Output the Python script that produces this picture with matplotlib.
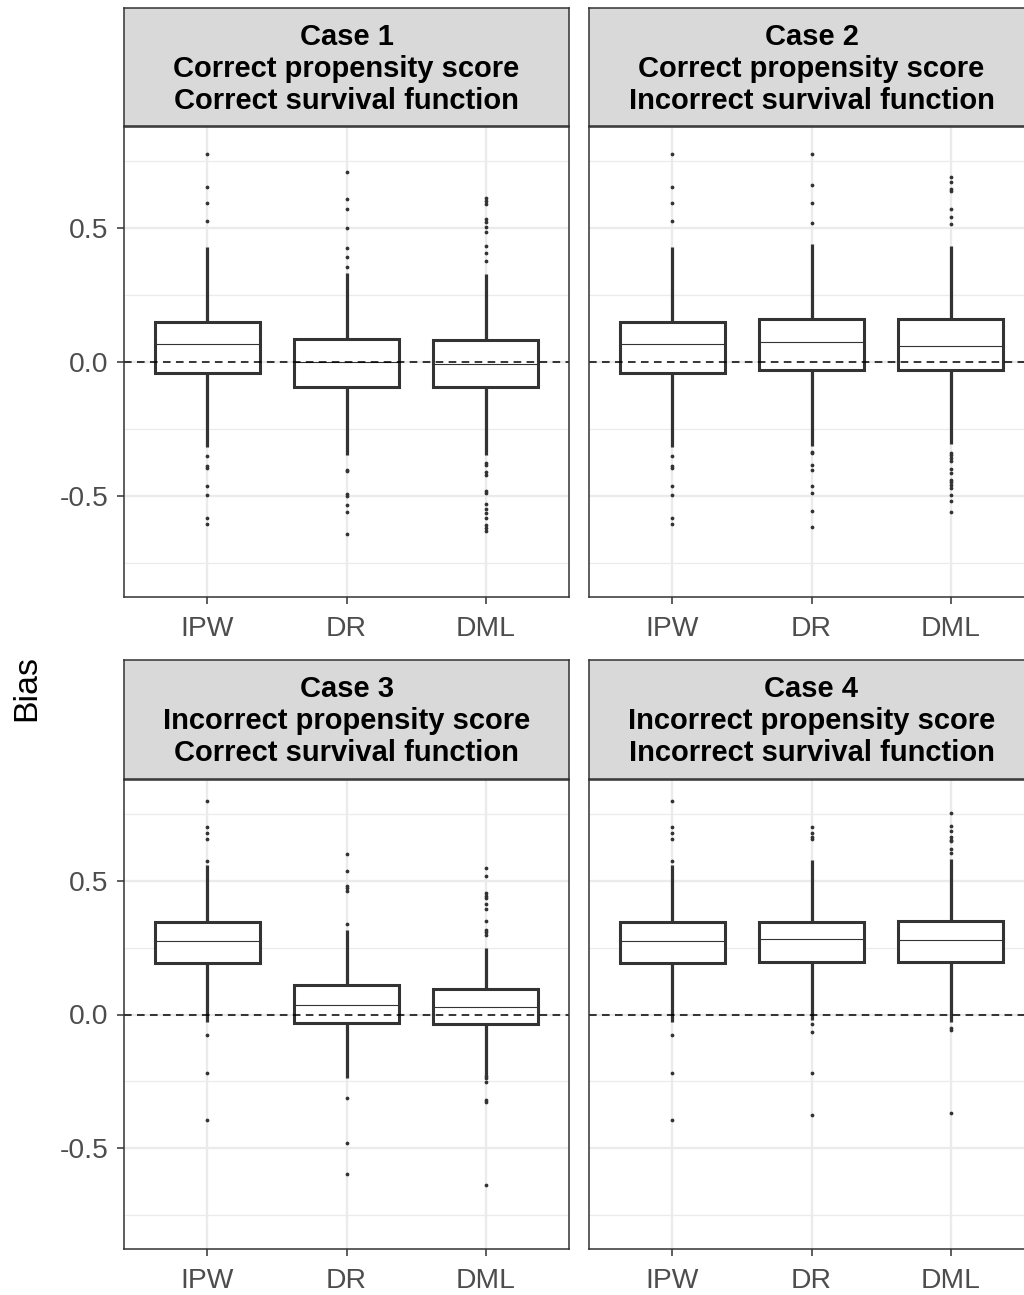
import matplotlib
matplotlib.use("Agg")
import matplotlib.pyplot as plt

plt.rcParams['font.family'] = ['Liberation Sans', 'DejaVu Sans']
plt.rcParams['axes.unicode_minus'] = False

# ---------------- data ----------------
case_titles = [
    "Case 1\nCorrect propensity score\nCorrect survival function",
    "Case 2\nCorrect propensity score\nIncorrect survival function",
    "Case 3\nIncorrect propensity score\nCorrect survival function",
    "Case 4\nIncorrect propensity score\nIncorrect survival function",
]
methods = ["IPW", "DR", "DML"]

# box statistics per case (rows) and method (columns: IPW, DR, DML)
q1_vals = [
    [-0.042, -0.092, -0.092],
    [-0.042, -0.030, -0.030],
    [0.191, -0.031, -0.037],
    [0.191, 0.197, 0.197],
]
median_vals = [
    [0.068, 0.001, -0.007],
    [0.068, 0.076, 0.060],
    [0.275, 0.037, 0.029],
    [0.275, 0.282, 0.278],
]
q3_vals = [
    [0.148, 0.086, 0.082],
    [0.148, 0.159, 0.159],
    [0.345, 0.112, 0.094],
    [0.345, 0.346, 0.351],
]
whisker_low = [
    [-0.318, -0.347, -0.347],
    [-0.318, -0.312, -0.307],
    [-0.027, -0.237, -0.225],
    [-0.027, -0.021, -0.027],
]
whisker_high = [
    [0.428, 0.331, 0.327],
    [0.428, 0.441, 0.433],
    [0.559, 0.316, 0.250],
    [0.559, 0.578, 0.581],
]

outliers_case1 = [
    [0.776, 0.654, 0.593, 0.526, -0.351, -0.388, -0.394, -0.463, -0.496, -0.581, -0.603],
    [0.708, 0.607, 0.571, 0.501, 0.427, 0.391, 0.356,
     -0.403, -0.407, -0.493, -0.500, -0.534, -0.561, -0.642],
    [0.611, 0.601, 0.590, 0.532, 0.524, 0.505, 0.486, 0.433, 0.406, 0.377,
     -0.376, -0.384, -0.412, -0.422, -0.481, -0.490, -0.530, -0.549, -0.565,
     -0.583, -0.608, -0.621, -0.631],
]
outliers_case2 = [
    [0.776, 0.654, 0.593, 0.526, -0.351, -0.388, -0.394, -0.463, -0.496, -0.581, -0.603],
    [0.776, 0.660, 0.592, 0.520,
     -0.335, -0.341, -0.384, -0.403, -0.463, -0.490, -0.556, -0.614],
    [0.692, 0.673, 0.644, 0.638, 0.570, 0.542, 0.515,
     -0.338, -0.347, -0.359, -0.368, -0.400, -0.415, -0.440, -0.449, -0.459,
     -0.471, -0.496, -0.517, -0.558],
]
outliers_case3 = [
    [0.799, 0.700, 0.680, 0.657, 0.574, -0.077, -0.217, -0.396],
    [0.600, 0.538, 0.482, 0.472, 0.462, 0.337, -0.312, -0.481, -0.596],
    [0.549, 0.518, 0.453, 0.444, 0.437, 0.412, 0.394, 0.351, 0.316, 0.307, 0.297,
     -0.230, -0.237, -0.252, -0.318, -0.327, -0.636],
]
outliers_case4 = [
    [0.799, 0.700, 0.680, 0.657, 0.574, -0.077, -0.217, -0.396],
    [0.700, 0.680, 0.665, 0.657, -0.037, -0.067, -0.217, -0.375],
    [0.753, 0.705, 0.688, 0.662, 0.653, 0.647, 0.619, 0.603, -0.052, -0.059, -0.367],
]
outliers_all = [outliers_case1, outliers_case2, outliers_case3, outliers_case4]

y_ticks = [-0.5, 0.0, 0.5]
y_tick_labels = ["-0.5", "0.0", "0.5"]
y_minor = [-0.75, -0.25, 0.25, 0.75]
y_label = "Bias"

# ---------------- layout ----------------
W, H = 1024, 1295
fig = plt.figure(figsize=(W / 100, H / 100), dpi=100)

dark = "#333333"
grid_col = "#ebebeb"
strip_fill = "#d9d9d9"

col_left = [124, 589]
panel_w = 445
rows = [(8, 127, 597), (660, 780, 1249)]  # strip top, panel top, panel bottom

ylim = (-0.877, 0.877)

for idx in range(4):
    r, c = divmod(idx, 2)
    st_top, p_top, p_bot = rows[r]
    left = col_left[c]
    ax = fig.add_axes([left / W, 1 - p_bot / H, panel_w / W, (p_bot - p_top) / H])
    ax.set_xlim(0.4, 3.6)
    ax.set_ylim(*ylim)
    ax.set_facecolor("white")

    # grid
    for yv in y_minor:
        ax.axhline(yv, color=grid_col, lw=0.9, zorder=0)
    for yv in y_ticks:
        ax.axhline(yv, color=grid_col, lw=1.7, zorder=0)
    for xv in range(1, len(methods) + 1):
        ax.axvline(xv, color=grid_col, lw=1.7, zorder=0)

    stats = []
    for m in range(len(methods)):
        stats.append(dict(
            med=median_vals[idx][m], q1=q1_vals[idx][m], q3=q3_vals[idx][m],
            whislo=whisker_low[idx][m], whishi=whisker_high[idx][m],
            fliers=outliers_all[idx][m], label=methods[m]))
    ax.bxp(stats, positions=[1, 2, 3], widths=0.75, showcaps=False,
           patch_artist=True,
           boxprops=dict(facecolor="white", edgecolor=dark, linewidth=2.2),
           whiskerprops=dict(color=dark, linewidth=2.3, solid_capstyle="butt"),
           medianprops=dict(color=dark, linewidth=0.8),
           flierprops=dict(marker="o", markersize=1.7, markerfacecolor=dark,
                           markeredgecolor=dark, linestyle="none"),
           zorder=2)

    ax.axhline(0, color="black", lw=1.1, dashes=(5, 3.5), zorder=4)

    ax.set_xticks([1, 2, 3])
    ax.set_xticklabels(methods)
    ax.set_yticks(y_ticks)
    if c == 0:
        ax.set_yticklabels(y_tick_labels)
    else:
        ax.set_yticklabels([])
    ax.tick_params(axis="both", colors=dark, labelcolor="#4d4d4d",
                   labelsize=20.3, width=1.1, length=5)
    ax.tick_params(axis="x", pad=9)
    ax.tick_params(axis="y", pad=6)
    if c == 1:
        ax.tick_params(axis="y", length=0)
    for sp in ax.spines.values():
        sp.set_color(dark)
        sp.set_linewidth(1.1)
        sp.set_zorder(5)

    # strip
    sax = fig.add_axes([left / W, 1 - (p_top - 1) / H, panel_w / W, (p_top - 1 - st_top) / H])
    sax.set_facecolor(strip_fill)
    sax.set_xticks([])
    sax.set_yticks([])
    for sp in sax.spines.values():
        sp.set_color(dark)
        sp.set_linewidth(1.1)
    sax.text(0.5, 0.485, case_titles[idx], ha="center", va="center",
             fontsize=21, fontweight="bold", color="black",
             linespacing=1.19, transform=sax.transAxes)

fig.text(27 / W, 1 - 688 / H, y_label, rotation=90, ha="center", va="center",
         fontsize=24.5, color="black")

fig.savefig("out.png", dpi=100)
